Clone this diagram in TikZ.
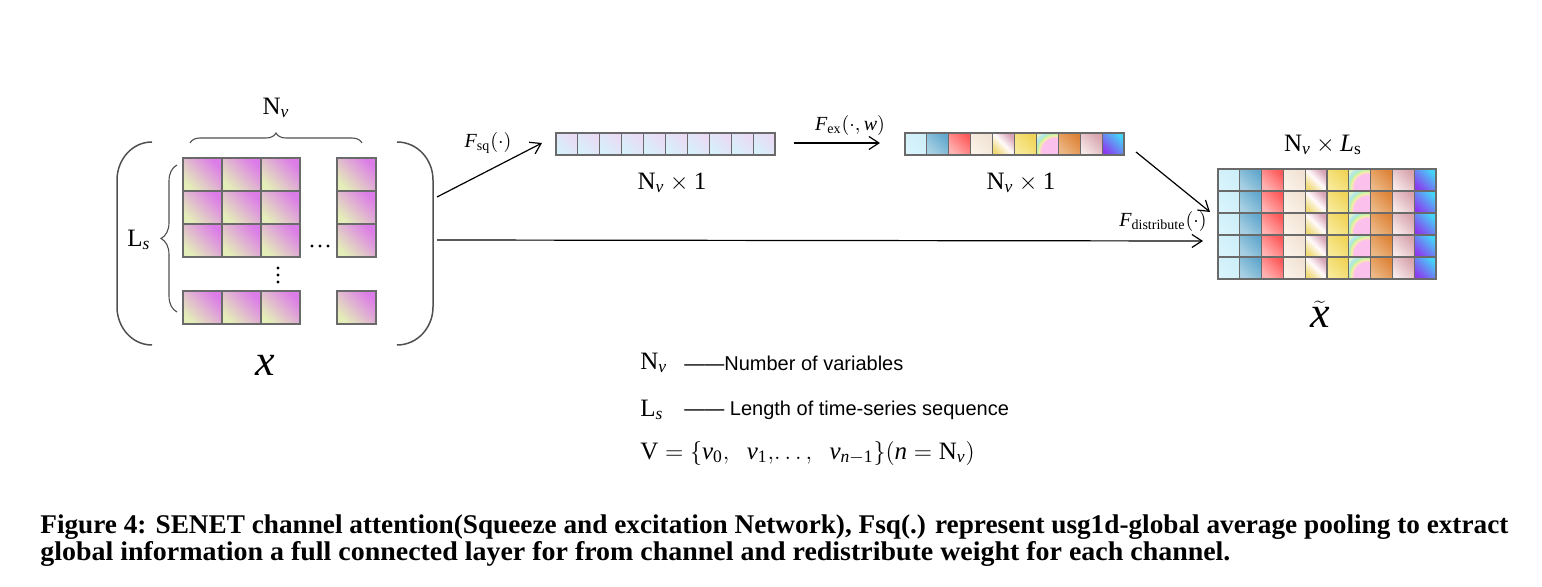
\documentclass[tikz,border=0pt]{standalone}
\usepackage{fontspec}
\setmainfont{Liberation Serif}
\newfontfamily\arialfont{Liberation Sans}
\usepackage{graphicx}
\usetikzlibrary{arrows.meta,decorations.pathreplacing}
\definecolor{cellgray}{HTML}{6A6A6A}
\definecolor{parengray}{HTML}{505050}
\definecolor{lgA}{HTML}{E4EEB8}
\definecolor{lgB}{HTML}{DC7CE8}
\definecolor{bqA}{HTML}{D6F0FA}
\definecolor{bqB}{HTML}{EADAF4}
\definecolor{rbpink}{HTML}{FCC0EC}
\definecolor{rbyellow}{HTML}{F4F0A0}
\definecolor{rbgreen}{HTML}{B8F0B0}
\definecolor{rbcyan}{HTML}{B0E4F4}
\definecolor{rbouter}{HTML}{E4F4C0}
\pgfdeclareradialshading{rainbowcell}{\pgfpoint{25bp}{-25bp}}{color(0bp)=(rbpink);color(32bp)=(rbpink);color(36bp)=(rbyellow);color(40bp)=(rbgreen);color(44bp)=(rbcyan);color(49bp)=(rbouter);color(110bp)=(rbouter)}
\definecolor{k1a}{HTML}{D9F4FC}\definecolor{k1b}{HTML}{CDEEF8}
\definecolor{k2a}{HTML}{A8D0E2}\definecolor{k2b}{HTML}{62A8CE}
\definecolor{k3a}{HTML}{FFB4B4}\definecolor{k3b}{HTML}{FF5A5A}
\definecolor{k4a}{HTML}{FBF2E8}\definecolor{k4b}{HTML}{F1E2D4}
\definecolor{k5a}{HTML}{F0DA78}\definecolor{k5b}{HTML}{D8A4B6}
\definecolor{k6a}{HTML}{F8EA98}\definecolor{k6b}{HTML}{F0D458}
\definecolor{k8a}{HTML}{ECB886}\definecolor{k8b}{HTML}{DE8438}
\definecolor{k9a}{HTML}{F6E8E8}\definecolor{k9b}{HTML}{D8A4AE}
\definecolor{k10a}{HTML}{8C3CF0}\definecolor{k10b}{HTML}{44D4F8}
\tikzset{
  sh/.style 2 args={top color=#2, bottom color=#1, shading angle=-45},
  cellline/.style={draw=cellgray, line width=0.55pt},
  parenline/.style={draw=parengray, line width=0.75pt},
  bracel/.style={draw=parengray, line width=0.55pt, decorate},
  arr/.style={-{Straight Barb[length=5pt,width=6.5pt]}, line width=0.6pt},
  lbl/.style={font=\fontsize{12.5}{15}\selectfont, inner sep=0pt},
  flbl/.style={font=\fontsize{10}{12}\selectfont, inner sep=0pt},
  bigx/.style={font=\fontsize{22}{26}\selectfont, inner sep=0pt},
  legtxt/.style={font=\arialfont\fontsize{10}{12}\selectfont, inner sep=0pt, anchor=west},
  captxt/.style={font=\bfseries\fontsize{13.5}{16}\selectfont, inner sep=0pt, anchor=base west},
  col1/.style={sh={k1a}{k1b}},
  col2/.style={sh={k2a}{k2b}},
  col3/.style={sh={k3a}{k3b}},
  col4/.style={sh={k4a}{k4b}},
  col5/.style={top color=k5b, bottom color=k5a, middle color=white!92!pink, shading angle=-45},
  col6/.style={sh={k6a}{k6b}},
  col7/.style={shading=rainbowcell},
  col8/.style={sh={k8a}{k8b}},
  col9/.style={sh={k9a}{k9b}},
  col10/.style={sh={k10a}{k10b}},
}
\begin{document}
\begin{tikzpicture}[x=0.5pt,y=-0.5pt]
\useasboundingbox[fill=white] (0,0) rectangle (1542,587);

% ---- left input grid
\foreach \cx in {183,222,261,337}{
  \foreach \ry in {158,191,224,291}{
    \shade[sh={lgA}{lgB}] (\cx,\ry) rectangle ++(39,33);
    \draw[cellline] (\cx,\ry) rectangle ++(39,33);
  }
}
% ellipsis dots
\foreach \dx in {312,320,328}{ \fill (\dx,246) circle (1.7); }
\foreach \dy in {268,275,282}{ \fill (278,\dy) circle (1.7); }

% braces
\draw[bracel, decoration={brace, amplitude=5pt}] (190,143) -- (362,143);
\draw[bracel, decoration={brace, amplitude=8pt}] (177,312) -- (177,165);
\node[lbl] (nvtop) at (276,108) {$\mathrm{N}_{\mathit{v}}$};
\node[lbl] (ls) at (139,240) {$\mathrm{L}_{\mathit{s}}$};

% big parentheses
\draw[parenline] (152,142) to[out=180,in=90] (117,180) -- (117,307) to[out=-90,in=180] (152,345);
\draw[parenline] (397,142) to[out=0,in=90] (433,180) -- (433,307) to[out=-90,in=0] (397,345);
\node[bigx] (xin) at (265,365) {$\mathit{x}$};

% ---- squeeze bar
\foreach \i in {0,...,9}{
  \shade[sh={bqA}{bqB}] ({556+\i*21.9},133) rectangle ++(21.9,22);
  \draw[cellline] ({556+\i*21.9},133) rectangle ++(21.9,22);
}
\node[lbl] (nv1a) at (672,183) {$\mathrm{N}_{\mathit{v}}\times\mathrm{1}$};

% ---- excitation bar
\foreach \i in {1,...,10}{
  \shade[col\i] ({905+(\i-1)*21.9},133) rectangle ++(21.9,22);
}
\foreach \i in {1,...,10}{
  \draw[cellline] ({905+(\i-1)*21.9},133) rectangle ++(21.9,22);
}
\node[lbl] (nv1b) at (1021,183) {$\mathrm{N}_{\mathit{v}}\times\mathrm{1}$};

% ---- output grid
\foreach \i in {1,...,10}{
  \foreach \r in {0,...,4}{
    \shade[col\i] ({1218+(\i-1)*21.8},{169+\r*22}) rectangle ++(21.8,22);
  }
}
\foreach \i in {1,...,10}{
  \foreach \r in {0,...,4}{
    \draw[cellline] ({1218+(\i-1)*21.8},{169+\r*22}) rectangle ++(21.8,22);
  }
}
\node[lbl] (nvls) at (1323,145) {$\mathrm{N}_{\mathit{v}}\times\mathit{L}_{\mathrm{s}}$};
\node[bigx] (xout) at (1320,314) {$\widetilde{\mathit{x}}$};

% ---- arrows
\coordinate (sqS) at (437,197);
\coordinate (sqE) at (542,143);
\coordinate (exS) at (794,143);
\coordinate (exE) at (880,143);
\coordinate (dsS) at (1136,152);
\coordinate (dsE) at (1210,212);
\coordinate (lgS) at (437,240);
\coordinate (lgE) at (1203,241);
\draw[arr] (sqS) -- (sqE);
\draw[arr] (exS) -- (exE);
\draw[arr] (dsS) -- (dsE);
\draw[arr] (lgS) -- (lgE);
\node[flbl] (fsq) at (488,143) {$\mathit{F}_{\mathrm{sq}}(\cdot)$};
\node[flbl] (fex) at (850,126) {$\mathit{F}_{\mathrm{ex}}(\cdot,\mathit{w})$};
\node[flbl] (fdis) at (1163,222) {$\mathit{F}_{\mathrm{distribute}}(\cdot)$};

% ---- legend
\node[lbl, anchor=west] (lgnv) at (640,363) {$\mathrm{N}_{\mathit{v}}$};
\node[legtxt] (lgnvt) at (684,363) {——Number of variables};
\node[lbl, anchor=west] (lgls) at (640,410) {$\mathrm{L}_{\mathit{s}}$};
\node[legtxt] (lglst) at (684,410) {—— Length of time-series sequence};
\node[lbl, anchor=west] (lgv) at (640,453) {$\mathrm{V}=\{\mathit{v}_{\mathrm{0}},\;\;\mathit{v}_{\mathrm{1}},\!\ldots,\;\;\mathit{v}_{\mathit{n}-\mathrm{1}}\}(\mathit{n}=\mathrm{N}_{\mathit{v}})$};

% ---- caption
\node[captxt] (cap1) at (40,533) {\resizebox{734pt}{\height}{Figure 4: SENET channel attention(Squeeze and excitation Network), Fsq(.) represent usg1d-global average pooling to extract}};
\node[captxt] (cap2) at (40,560) {\resizebox{595pt}{\height}{global information a full connected layer for from channel and redistribute weight for each channel.}};
\end{tikzpicture}
\end{document}
